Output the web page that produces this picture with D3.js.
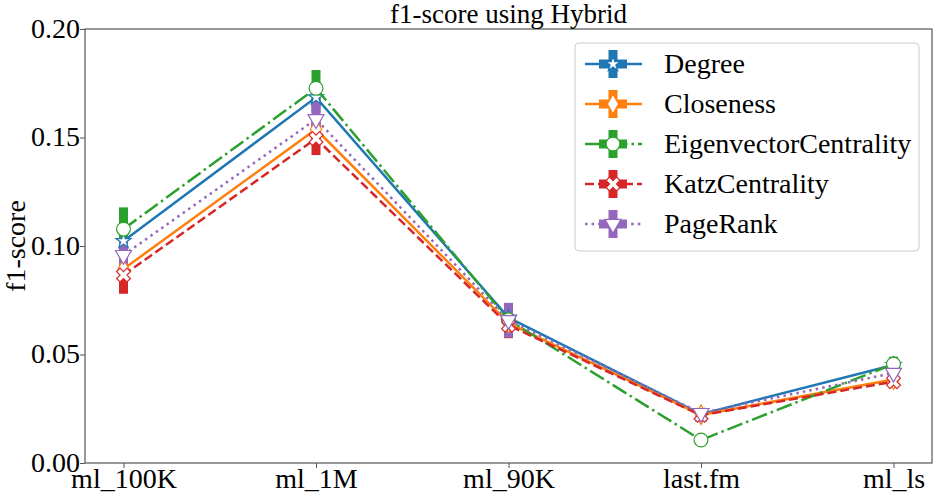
<!DOCTYPE html>
<html>
<head>
<meta charset="utf-8">
<script src="https://cdn.jsdelivr.net/npm/d3@7"></script>
<style>
  body { margin: 0; background: #fff; }
  text { font-family: "Liberation Serif", "Times New Roman", serif; }
</style>
</head>
<body>
<div id="chart"></div>
<script>
// datasets on the x axis
const datasets = ["ml_100K", "ml_1M", "ml_90K", "last.fm", "ml_ls"];
const yTicks = [0.00, 0.05, 0.10, 0.15, 0.20];

// f1-score per centrality measure
const degree      = [0.1023, 0.1685, 0.0670, 0.0225, 0.0452];
const closeness   = [0.0894, 0.1538, 0.0645, 0.0222, 0.0385];
const eigenvector = [0.1078, 0.1727, 0.0660, 0.0106, 0.0456];
const katz        = [0.0866, 0.1495, 0.0635, 0.0220, 0.0375];
const pagerank    = [0.0958, 0.1584, 0.0658, 0.0230, 0.0415];

// error bar half-heights
const degreeErr      = [0.006, 0.007, 0.004, 0.001, 0.002];
const closenessErr   = [0.006, 0.007, 0.004, 0.001, 0.002];
const eigenvectorErr = [0.010, 0.0084, 0.005, 0.001, 0.0034];
const katzErr        = [0.0086, 0.0076, 0.006, 0.001, 0.002];
const pagerankErr    = [0.006, 0.008, 0.008, 0.001, 0.002];

const series = [
  { name: "Degree", values: degree, err: degreeErr, color: "#1f77b4", dash: null, marker: "star" },
  { name: "Closeness", values: closeness, err: closenessErr, color: "#ff7f0e", dash: null, marker: "diamond" },
  { name: "EigenvectorCentrality", values: eigenvector, err: eigenvectorErr, color: "#2ca02c", dash: "16,4,2.5,4", marker: "circle" },
  { name: "KatzCentrality", values: katz, err: katzErr, color: "#d62728", dash: "9,4", marker: "x" },
  { name: "PageRank", values: pagerank, err: pagerankErr, color: "#9467bd", dash: "2.5,4.1", marker: "triangle" }
];

const W = 937, H = 501;
const margin = { left: 85, right: 5, top: 29, bottom: 38 };

const svg = d3.select("#chart").append("svg")
  .attr("width", W).attr("height", H);

// matplotlib style 5% padding on the categorical axis
const x = d3.scaleLinear()
  .domain([-0.2, datasets.length - 1 + 0.2])
  .range([margin.left, W - margin.right]);
const y = d3.scaleLinear()
  .domain([0, 0.2])
  .range([H - margin.bottom, margin.top]);

const symbols = {
  star: d3.symbolStar,
  diamond: d3.symbolDiamond,
  circle: d3.symbolCircle,
  x: d3.symbolCross,
  triangle: d3.symbolTriangle
};
const sizes = { star: 70, diamond: 110, circle: 150, x: 120, triangle: 110 };

function drawMarker(g, m, color, cx, cy) {
  let rot = 0;
  if (m === "x") rot = 45;
  if (m === "triangle") rot = 180;
  g.append("path")
    .attr("d", d3.symbol().type(symbols[m]).size(sizes[m])())
    .attr("transform", `translate(${cx},${cy}) rotate(${rot})`)
    .attr("fill", "#fff")
    .attr("stroke", color)
    .attr("stroke-width", 1.2);
}

// axes
const xAxis = svg.append("g")
  .attr("transform", `translate(0,${H - margin.bottom})`)
  .call(d3.axisBottom(x).tickValues(d3.range(datasets.length)).tickFormat(i => datasets[i]).tickSize(5).tickSizeOuter(0));
xAxis.select(".domain").remove();
xAxis.selectAll("line").attr("stroke", "#555");
xAxis.selectAll("text").attr("font-size", 28).attr("fill", "#000").attr("dy", "0.62em");

const yAxis = svg.append("g")
  .attr("transform", `translate(${margin.left},0)`)
  .call(d3.axisLeft(y).tickValues(yTicks).tickFormat(d3.format(".2f")).tickSize(5).tickSizeOuter(0));
yAxis.select(".domain").remove();
yAxis.selectAll("line").attr("stroke", "#555");
yAxis.selectAll("text").attr("font-size", 28).attr("fill", "#000").attr("x", -5).attr("dy", "0.3em");

// plot frame
svg.append("rect")
  .attr("x", margin.left).attr("y", margin.top)
  .attr("width", W - margin.right - margin.left)
  .attr("height", H - margin.bottom - margin.top)
  .attr("fill", "none").attr("stroke", "#555").attr("stroke-width", 1.2);

// error bars sit below all lines
series.forEach(s => {
  svg.append("g").selectAll("line")
    .data(s.values)
    .enter().append("line")
    .attr("x1", (d, i) => x(i)).attr("x2", (d, i) => x(i))
    .attr("y1", (d, i) => y(d - s.err[i]))
    .attr("y2", (d, i) => y(d + s.err[i]))
    .attr("stroke", s.color)
    .attr("stroke-width", 9);
});

const line = d3.line().x((d, i) => x(i)).y(d => y(d));

series.forEach(s => {
  const g = svg.append("g");
  g.append("path")
    .datum(s.values)
    .attr("d", line)
    .attr("fill", "none")
    .attr("stroke", s.color)
    .attr("stroke-width", 2.5)
    .attr("stroke-dasharray", s.dash);
  s.values.forEach((v, i) => drawMarker(g, s.marker, s.color, x(i), y(v)));
});

// title and y label
svg.append("text")
  .attr("x", (margin.left + W - margin.right) / 2).attr("y", 23)
  .attr("text-anchor", "middle").attr("font-size", 27)
  .text("f1-score using Hybrid");

svg.append("text")
  .attr("transform", `translate(25,${(margin.top + H - margin.bottom) / 2}) rotate(-90)`)
  .attr("text-anchor", "middle").attr("font-size", 28)
  .text("f1-score");

// legend
const legend = svg.append("g");
legend.append("rect")
  .attr("x", 575).attr("y", 43).attr("width", 344).attr("height", 208)
  .attr("rx", 4).attr("fill", "#fff").attr("fill-opacity", 0.8)
  .attr("stroke", "#ccc");

series.forEach((s, i) => {
  const ly = 64 + i * 40;
  const g = legend.append("g");
  g.append("line")
    .attr("x1", 585).attr("x2", 642).attr("y1", ly).attr("y2", ly)
    .attr("stroke", s.color).attr("stroke-width", 2.5)
    .attr("stroke-dasharray", s.dash);
  g.append("line")
    .attr("x1", 613).attr("x2", 613).attr("y1", ly - 14).attr("y2", ly + 14)
    .attr("stroke", s.color).attr("stroke-width", 9);
  g.append("line")
    .attr("x1", 599).attr("x2", 627).attr("y1", ly).attr("y2", ly)
    .attr("stroke", s.color).attr("stroke-width", 9);
  drawMarker(g, s.marker, s.color, 613, ly);
  g.append("text")
    .attr("x", 664).attr("y", ly).attr("dy", "0.33em")
    .attr("font-size", 28)
    .text(s.name);
});
</script>
</body>
</html>
